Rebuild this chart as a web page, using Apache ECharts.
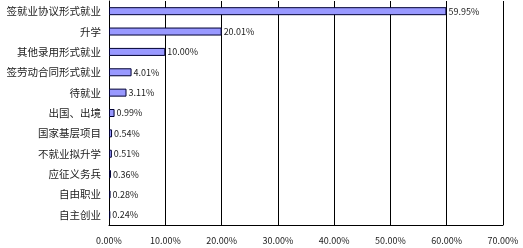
<!DOCTYPE html>
<html><head><meta charset="utf-8">
<script src="https://cdn.jsdelivr.net/npm/echarts@6/dist/echarts.min.js"></script>
<style>html,body{margin:0;padding:0;background:#fff}#c{width:523px;height:248px}</style>
</head><body><div id="c"></div>
<script>
const categories = ['签就业协议形式就业','升学','其他录用形式就业','签劳动合同形式就业','待就业','出国、出境','国家基层项目','不就业拟升学','应征义务兵','自由职业','自主创业'];
const values = [59.95, 20.01, 10.00, 4.01, 3.11, 0.99, 0.54, 0.51, 0.36, 0.28, 0.24];
const xTicks = [0, 10, 20, 30, 40, 50, 60, 70];

const font = '"Noto Sans CJK SC", sans-serif';
const chart = echarts.init(document.getElementById('c'));
chart.setOption({
  animation: false,
  grid: {left: 109, right: 20, top: 1, bottom: 23, containLabel: false},
  xAxis: {
    type: 'value', min: xTicks[0], max: xTicks[xTicks.length-1], interval: 10,
    axisLine: {show: true, lineStyle: {color: '#000', width: 1}},
    axisTick: {show: false},
    splitLine: {show: true, lineStyle: {color: '#000', width: 1}},
    axisLabel: {formatter: v => v.toFixed(2) + '%', fontFamily: font, fontSize: 9, color: '#222', margin: 11}
  },
  yAxis: {
    type: 'category', data: categories, inverse: true,
    axisLine: {show: true, lineStyle: {color: '#000', width: 1}},
    axisTick: {show: false},
    axisLabel: {fontFamily: font, fontSize: 10.5, color: '#222', margin: 8}
  },
  series: [{
    type: 'bar', data: values, barWidth: 8,
    itemStyle: {color: '#9999ff', borderColor: '#000033', borderWidth: 1},
    label: {show: true, position: 'right', distance: 2, formatter: p => p.value.toFixed(2) + '%', fontFamily: font, fontSize: 9, color: '#222'}
  }]
});
</script></body></html>
